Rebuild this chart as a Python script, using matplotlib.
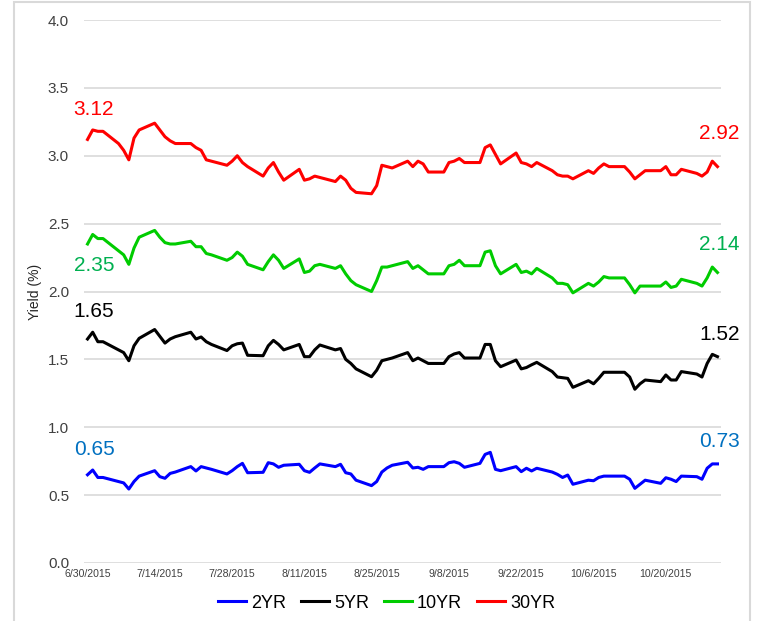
import matplotlib
matplotlib.use("Agg")
import matplotlib.pyplot as plt
from matplotlib.lines import Line2D
from matplotlib.patches import Rectangle
import pandas as pd

plt.rcParams['font.family'] = ['Liberation Sans', 'DejaVu Sans']

# Data: daily Treasury yields (%), business days 6/30/2015 - 10/30/2015
dates = pd.bdate_range("2015-06-30", "2015-10-30")

yr2 = ([0.65]
       + [0.685, 0.63, 0.63, 0.60, 0.59, 0.545, 0.60, 0.64, 0.68, 0.636, 0.624, 0.66,
          0.67, 0.71, 0.678, 0.71, 0.70, 0.69, 0.656, 0.68, 0.71, 0.734, 0.665]
       + [0.668, 0.739, 0.73, 0.705, 0.72, 0.727, 0.68, 0.668, 0.70, 0.73, 0.71,
          0.727, 0.665, 0.656, 0.61, 0.57, 0.60, 0.67, 0.70, 0.72, 0.742]
       + [0.70, 0.705, 0.69, 0.71, 0.71, 0.739, 0.746, 0.734, 0.705, 0.734, 0.80,
          0.815, 0.69, 0.68, 0.71, 0.673, 0.698, 0.678, 0.698, 0.67, 0.653, 0.63]
       + [0.648, 0.58, 0.61, 0.606, 0.63, 0.64, 0.64, 0.64, 0.617, 0.55, 0.58, 0.61,
          0.587, 0.628, 0.617, 0.60, 0.64, 0.636, 0.617, 0.698, 0.73, 0.73])

yr5 = ([1.65]
       + [1.70, 1.63, 1.63, 1.57, 1.55, 1.49, 1.60, 1.655, 1.72, 1.67, 1.62, 1.65,
          1.667, 1.70, 1.65, 1.665, 1.63, 1.61, 1.565, 1.60, 1.615, 1.62, 1.53]
       + [1.527, 1.60, 1.64, 1.61, 1.57, 1.61, 1.52, 1.52, 1.57, 1.606, 1.57, 1.58,
          1.50, 1.47, 1.43, 1.372, 1.42, 1.49, 1.50, 1.51, 1.55]
       + [1.49, 1.51, 1.49, 1.47, 1.47, 1.52, 1.54, 1.55, 1.51, 1.51, 1.61, 1.61,
          1.49, 1.446, 1.495, 1.43, 1.44, 1.46, 1.478, 1.41, 1.37, 1.365]
       + [1.36, 1.294, 1.343, 1.32, 1.36, 1.405, 1.405, 1.405, 1.37, 1.28, 1.32,
          1.348, 1.336, 1.385, 1.348, 1.348, 1.41, 1.392, 1.37, 1.47, 1.537, 1.52])

yr10 = ([2.35]
        + [2.42, 2.39, 2.39, 2.30, 2.27, 2.20, 2.32, 2.40, 2.45, 2.40, 2.36, 2.35,
           2.35, 2.37, 2.33, 2.33, 2.28, 2.27, 2.23, 2.25, 2.29, 2.26, 2.20]
        + [2.16, 2.22, 2.27, 2.23, 2.17, 2.24, 2.14, 2.15, 2.19, 2.20, 2.17, 2.19,
           2.13, 2.08, 2.05, 2.00, 2.08, 2.18, 2.18, 2.19, 2.22]
        + [2.17, 2.19, 2.16, 2.13, 2.13, 2.19, 2.20, 2.23, 2.19, 2.19, 2.29, 2.30,
           2.19, 2.13, 2.20, 2.14, 2.15, 2.13, 2.17, 2.10, 2.06, 2.06]
        + [2.05, 1.99, 2.06, 2.04, 2.07, 2.11, 2.10, 2.10, 2.05, 1.99, 2.04, 2.04,
           2.04, 2.07, 2.03, 2.04, 2.09, 2.06, 2.04, 2.10, 2.18, 2.14])

yr30 = ([3.12]
        + [3.19, 3.18, 3.18, 3.09, 3.04, 2.97, 3.13, 3.19, 3.24, 3.19, 3.14, 3.11,
           3.09, 3.09, 3.06, 3.04, 2.97, 2.96, 2.93, 2.96, 3.00, 2.95, 2.92]
        + [2.85, 2.91, 2.95, 2.88, 2.82, 2.90, 2.82, 2.83, 2.85, 2.84, 2.81, 2.85,
           2.82, 2.76, 2.73, 2.72, 2.78, 2.93, 2.92, 2.91, 2.96]
        + [2.92, 2.96, 2.94, 2.88, 2.88, 2.95, 2.96, 2.98, 2.95, 2.95, 3.06, 3.08,
           3.01, 2.94, 3.02, 2.95, 2.94, 2.92, 2.95, 2.89, 2.86, 2.85]
        + [2.85, 2.83, 2.89, 2.87, 2.91, 2.94, 2.92, 2.92, 2.88, 2.83, 2.86, 2.89,
           2.89, 2.92, 2.86, 2.86, 2.90, 2.87, 2.85, 2.88, 2.96, 2.92])

series_names = ["2YR", "5YR", "10YR", "30YR"]
line_colors = ["#0000ff", "#000000", "#00cc00", "#ff0000"]
label_colors = ["#0070c0", "#000000", "#00b050", "#ff0000"]

W, H = 757, 621
fig = plt.figure(figsize=(W / 100, H / 100), dpi=100)
ax = fig.add_axes([84.3 / W, 1 - 563 / H, (720.7 - 84.3) / W, (563 - 20) / H])

# light border around the whole chart
fig.patches.append(Rectangle((14 / W, -0.05), (750 - 14) / W, 1.05 - 2 / H,
                             transform=fig.transFigure, fill=False,
                             edgecolor="#d9d9d9", linewidth=1.5))

all_series = [yr2, yr5, yr10, yr30]
for vals, c in zip(all_series, line_colors):
    ax.plot(dates, vals, color=c, linewidth=2.2, solid_joinstyle="round", zorder=3)

ax.set_ylim(0, 4.0)
ax.set_yticks([0, 0.5, 1.0, 1.5, 2.0, 2.5, 3.0, 3.5, 4.0])
ax.yaxis.set_major_formatter(matplotlib.ticker.FormatStrFormatter("%.1f"))
ax.set_xlim(dates[0] - pd.Timedelta(hours=15), dates[-1] + pd.Timedelta(hours=15))
xt = pd.date_range("2015-06-30", "2015-10-20", freq="14D")
ax.set_xticks(xt)
ax.set_xticklabels([f"{d.month}/{d.day}/{d.year}" for d in xt])

ax.grid(axis="y", color="#d9d9d9", linewidth=1.2, zorder=0)
for s in ax.spines.values():
    s.set_visible(False)
ax.tick_params(axis="y", length=0, pad=11, labelsize=11, labelcolor="#404040")
ax.tick_params(axis="x", length=0, pad=4, labelsize=7.6, labelcolor="#404040")
ax.set_ylabel("Yield (%)", fontsize=10, color="#262626", labelpad=4)

# first/last value labels (offsets in points)
first_off = [11.5, 13, -22, 15]
last_off = [9, 9, 13, 17]
for vals, c, fo, lo in zip(all_series, label_colors, first_off, last_off):
    ax.annotate(f"{vals[0]:.2f}", (dates[0], vals[0]), xytext=(-10, fo),
                textcoords="offset points", color=c, fontsize=15,
                ha="left", va="bottom")
    ax.annotate(f"{vals[-1]:.2f}", (dates[-1], vals[-1]), xytext=(-13, lo),
                textcoords="offset points", color=c, fontsize=15,
                ha="left", va="bottom")

handles = [Line2D([], [], color=c, linewidth=2.2) for c in line_colors]
fig.legend(handles, series_names, loc="center", ncol=4, frameon=False,
           bbox_to_anchor=(386.5 / W, 1 - 603 / H), fontsize=13,
           handlelength=1.55, handletextpad=0.3, columnspacing=0.8)

fig.savefig("out.png", dpi=100)
